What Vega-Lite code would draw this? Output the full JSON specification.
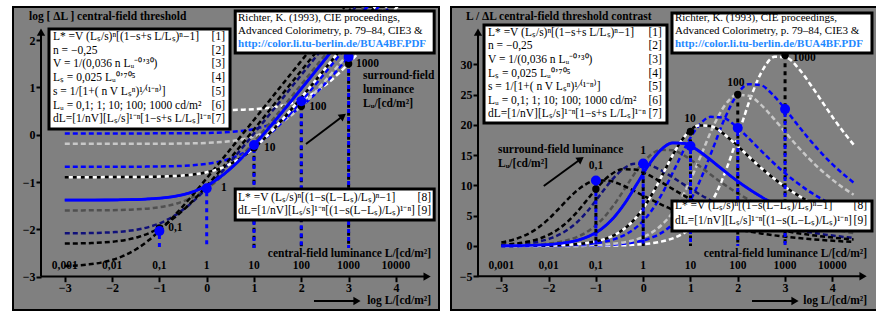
{
"$schema":"https://vega.github.io/schema/vega-lite/v6.json",
"padding":{"left":12,"top":6,"right":2,"bottom":4},
"background":"white",
"spacing":10,
"config":{"view":{"fill":"#808080","stroke":"#000","strokeWidth":2},"font":"Liberation Serif",
"axis":{"labelFont":"Liberation Serif","labelFontWeight":"bold","labelFontSize":12,"labelColor":"#000","tickColor":"#000","tickWidth":2,"tickSize":5,"domain":false,"grid":false,"labelPadding":1,"labelOverlap":false,"labelFlush":false}},
"datasets":{
"curves":[
{"s":"S10","x":-3,"l":0.513,"r":0.0003},{"s":"S10","x":-2.218,"l":0.513,"r":0.0019},{"s":"S10","x":-1.718,"l":0.513,"r":0.0059},{"s":"S10","x":-1.218,"l":0.513,"r":0.0186},{"s":"S10","x":-0.718,"l":0.514,"r":0.0587},{"s":"S10","x":-0.218,"l":0.515,"r":0.185},{"s":"S10","x":0.282,"l":0.518,"r":0.58},{"s":"S10","x":0.532,"l":0.523,"r":1.022},{"s":"S10","x":0.782,"l":0.53,"r":1.787},{"s":"S10","x":1.032,"l":0.543,"r":3.085},{"s":"S10","x":1.282,"l":0.565,"r":5.216},{"s":"S10","x":1.532,"l":0.602,"r":8.515},{"s":"S10","x":1.782,"l":0.662,"r":13.18},{"s":"S10","x":2.032,"l":0.755,"r":18.92},{"s":"S10","x":2.282,"l":0.889,"r":24.7},{"s":"S10","x":2.532,"l":1.068,"r":29.13},{"s":"S10","x":2.782,"l":1.287,"r":31.24},{"s":"S10","x":3.032,"l":1.539,"r":31.09},{"s":"S10","x":3.282,"l":1.815,"r":29.33},{"s":"S10","x":3.532,"l":2.105,"r":26.72},{"s":"S10","x":3.782,"l":2.405,"r":23.84},{"s":"S10","x":4.032,"l":2.71,"r":20.98},{"s":"S10","x":4.282,"l":3.018,"r":18.35},{"s":"S10","x":4.45,"l":3.227,"r":16.73},
{"s":"S9","x":-3,"l":0.027,"r":0.0009},{"s":"S9","x":-1.772,"l":0.027,"r":0.0159},{"s":"S9","x":-1.272,"l":0.028,"r":0.0502},{"s":"S9","x":-0.772,"l":0.029,"r":0.1583},{"s":"S9","x":-0.272,"l":0.032,"r":0.4962},{"s":"S9","x":-0.022,"l":0.037,"r":0.8737},{"s":"S9","x":0.228,"l":0.044,"r":1.528},{"s":"S9","x":0.478,"l":0.057,"r":2.638},{"s":"S9","x":0.728,"l":0.079,"r":4.46},{"s":"S9","x":0.978,"l":0.116,"r":7.281},{"s":"S9","x":1.228,"l":0.176,"r":11.27},{"s":"S9","x":1.478,"l":0.269,"r":16.18},{"s":"S9","x":1.728,"l":0.403,"r":21.12},{"s":"S9","x":1.978,"l":0.582,"r":24.91},{"s":"S9","x":2.228,"l":0.801,"r":26.72},{"s":"S9","x":2.478,"l":1.053,"r":26.58},{"s":"S9","x":2.728,"l":1.329,"r":25.08},{"s":"S9","x":2.978,"l":1.619,"r":22.85},{"s":"S9","x":3.228,"l":1.919,"r":20.37},{"s":"S9","x":3.478,"l":2.224,"r":17.94},{"s":"S9","x":3.728,"l":2.532,"r":15.69},{"s":"S9","x":3.978,"l":2.843,"r":13.66},{"s":"S9","x":4.45,"l":3.43,"r":10.47},
{"s":"S8","x":-3,"l":-0.192,"r":0.0016},{"s":"S8","x":-2.021,"l":-0.192,"r":0.0148},{"s":"S8","x":-1.521,"l":-0.192,"r":0.0468},{"s":"S8","x":-1.021,"l":-0.19,"r":0.1477},{"s":"S8","x":-0.521,"l":-0.187,"r":0.463},{"s":"S8","x":-0.271,"l":-0.182,"r":0.8154},{"s":"S8","x":-0.021,"l":-0.175,"r":1.426},{"s":"S8","x":0.229,"l":-0.162,"r":2.462},{"s":"S8","x":0.479,"l":-0.14,"r":4.162},{"s":"S8","x":0.729,"l":-0.103,"r":6.795},{"s":"S8","x":0.979,"l":-0.043,"r":10.51},{"s":"S8","x":1.229,"l":0.05,"r":15.1},{"s":"S8","x":1.479,"l":0.184,"r":19.71},{"s":"S8","x":1.729,"l":0.363,"r":23.24},{"s":"S8","x":1.979,"l":0.582,"r":24.93},{"s":"S8","x":2.229,"l":0.834,"r":24.8},{"s":"S8","x":2.479,"l":1.11,"r":23.4},{"s":"S8","x":2.729,"l":1.4,"r":21.32},{"s":"S8","x":2.979,"l":1.7,"r":19.01},{"s":"S8","x":3.229,"l":2.005,"r":16.75},{"s":"S8","x":3.479,"l":2.313,"r":14.64},{"s":"S8","x":3.979,"l":2.935,"r":11.08},{"s":"S8","x":4.45,"l":3.523,"r":8.45},
{"s":"S7","x":-3,"l":-0.678,"r":0.0048},{"s":"S7","x":-2.075,"l":-0.678,"r":0.04},{"s":"S7","x":-1.575,"l":-0.676,"r":0.1263},{"s":"S7","x":-1.075,"l":-0.673,"r":0.396},{"s":"S7","x":-0.825,"l":-0.668,"r":0.6973},{"s":"S7","x":-0.575,"l":-0.661,"r":1.219},{"s":"S7","x":-0.325,"l":-0.648,"r":2.105},{"s":"S7","x":-0.075,"l":-0.626,"r":3.558},{"s":"S7","x":0.175,"l":-0.589,"r":5.81},{"s":"S7","x":0.425,"l":-0.529,"r":8.991},{"s":"S7","x":0.675,"l":-0.436,"r":12.9},{"s":"S7","x":0.925,"l":-0.302,"r":16.86},{"s":"S7","x":1.175,"l":-0.123,"r":19.88},{"s":"S7","x":1.425,"l":0.096,"r":21.32},{"s":"S7","x":1.675,"l":0.348,"r":21.21},{"s":"S7","x":1.925,"l":0.624,"r":20.01},{"s":"S7","x":2.175,"l":0.914,"r":18.23},{"s":"S7","x":2.425,"l":1.214,"r":16.26},{"s":"S7","x":2.675,"l":1.519,"r":14.32},{"s":"S7","x":2.925,"l":1.827,"r":12.52},{"s":"S7","x":3.425,"l":2.449,"r":9.469},{"s":"S7","x":3.925,"l":3.072,"r":7.12},{"s":"S7","x":4.45,"l":3.728,"r":5.272},
{"s":"S6","x":-3,"l":-0.897,"r":0.0079},{"s":"S6","x":-2.324,"l":-0.897,"r":0.0374},{"s":"S6","x":-1.824,"l":-0.895,"r":0.1178},{"s":"S6","x":-1.324,"l":-0.892,"r":0.3694},{"s":"S6","x":-1.074,"l":-0.887,"r":0.6508},{"s":"S6","x":-0.824,"l":-0.88,"r":1.138},{"s":"S6","x":-0.574,"l":-0.867,"r":1.965},{"s":"S6","x":-0.324,"l":-0.845,"r":3.32},{"s":"S6","x":-0.074,"l":-0.808,"r":5.424},{"s":"S6","x":0.176,"l":-0.748,"r":8.391},{"s":"S6","x":0.426,"l":-0.655,"r":12.04},{"s":"S6","x":0.676,"l":-0.521,"r":15.73},{"s":"S6","x":0.926,"l":-0.342,"r":18.55},{"s":"S6","x":1.176,"l":-0.123,"r":19.9},{"s":"S6","x":1.426,"l":0.129,"r":19.8},{"s":"S6","x":1.676,"l":0.405,"r":18.67},{"s":"S6","x":1.926,"l":0.695,"r":17.02},{"s":"S6","x":2.176,"l":0.995,"r":15.18},{"s":"S6","x":2.426,"l":1.3,"r":13.36},{"s":"S6","x":2.676,"l":1.608,"r":11.69},{"s":"S6","x":3.176,"l":2.23,"r":8.837},{"s":"S6","x":3.676,"l":2.853,"r":6.644},{"s":"S6","x":4.176,"l":3.478,"r":4.987},{"s":"S6","x":4.45,"l":3.821,"r":4.262},
{"s":"S4","x":-3,"l":-1.601,"r":0.0399},{"s":"S4","x":-2.627,"l":-1.6,"r":0.094},{"s":"S4","x":-2.127,"l":-1.597,"r":0.2948},{"s":"S4","x":-1.877,"l":-1.592,"r":0.5193},{"s":"S4","x":-1.627,"l":-1.585,"r":0.9081},{"s":"S4","x":-1.377,"l":-1.572,"r":1.568},{"s":"S4","x":-1.127,"l":-1.55,"r":2.65},{"s":"S4","x":-0.877,"l":-1.513,"r":4.327},{"s":"S4","x":-0.627,"l":-1.453,"r":6.696},{"s":"S4","x":-0.377,"l":-1.36,"r":9.612},{"s":"S4","x":-0.127,"l":-1.226,"r":12.56},{"s":"S4","x":0.123,"l":-1.047,"r":14.8},{"s":"S4","x":0.373,"l":-0.828,"r":15.88},{"s":"S4","x":0.623,"l":-0.576,"r":15.8},{"s":"S4","x":0.873,"l":-0.3,"r":14.91},{"s":"S4","x":1.123,"l":-0.01,"r":13.58},{"s":"S4","x":1.373,"l":0.29,"r":12.11},{"s":"S4","x":1.623,"l":0.595,"r":10.66},{"s":"S4","x":1.873,"l":0.903,"r":9.324},{"s":"S4","x":2.373,"l":1.525,"r":7.052},{"s":"S4","x":2.873,"l":2.149,"r":5.303},{"s":"S4","x":3.373,"l":2.773,"r":3.98},{"s":"S4","x":3.873,"l":3.398,"r":2.986},{"s":"S4","x":4.373,"l":4.023,"r":2.239},{"s":"S4","x":4.45,"l":4.118,"r":2.142},
{"s":"S3","x":-3,"l":-2.085,"r":0.1217},{"s":"S3","x":-2.681,"l":-2.083,"r":0.2521},{"s":"S3","x":-2.431,"l":-2.078,"r":0.444},{"s":"S3","x":-2.181,"l":-2.071,"r":0.7764},{"s":"S3","x":-1.931,"l":-2.058,"r":1.341},{"s":"S3","x":-1.681,"l":-2.036,"r":2.266},{"s":"S3","x":-1.431,"l":-1.999,"r":3.7},{"s":"S3","x":-1.181,"l":-1.939,"r":5.726},{"s":"S3","x":-0.931,"l":-1.846,"r":8.219},{"s":"S3","x":-0.681,"l":-1.712,"r":10.73},{"s":"S3","x":-0.431,"l":-1.533,"r":12.66},{"s":"S3","x":-0.181,"l":-1.314,"r":13.58},{"s":"S3","x":0.069,"l":-1.062,"r":13.51},{"s":"S3","x":0.319,"l":-0.786,"r":12.74},{"s":"S3","x":0.569,"l":-0.496,"r":11.61},{"s":"S3","x":0.819,"l":-0.196,"r":10.35},{"s":"S3","x":1.069,"l":0.109,"r":9.12},{"s":"S3","x":1.319,"l":0.417,"r":7.973},{"s":"S3","x":1.819,"l":1.039,"r":6.03},{"s":"S3","x":2.319,"l":1.662,"r":4.535},{"s":"S3","x":2.819,"l":2.287,"r":3.403},{"s":"S3","x":3.319,"l":2.912,"r":2.553},{"s":"S3","x":3.819,"l":3.537,"r":1.914},{"s":"S3","x":4.319,"l":4.162,"r":1.435},{"s":"S3","x":4.45,"l":4.326,"r":1.331},
{"s":"S2","x":-3,"l":-2.302,"r":0.2005},{"s":"S2","x":-2.68,"l":-2.297,"r":0.414},{"s":"S2","x":-2.43,"l":-2.29,"r":0.7245},{"s":"S2","x":-2.18,"l":-2.277,"r":1.251},{"s":"S2","x":-1.93,"l":-2.255,"r":2.115},{"s":"S2","x":-1.68,"l":-2.218,"r":3.452},{"s":"S2","x":-1.43,"l":-2.158,"r":5.343},{"s":"S2","x":-1.18,"l":-2.065,"r":7.67},{"s":"S2","x":-0.93,"l":-1.931,"r":10.02},{"s":"S2","x":-0.68,"l":-1.752,"r":11.81},{"s":"S2","x":-0.43,"l":-1.533,"r":12.67},{"s":"S2","x":-0.18,"l":-1.281,"r":12.61},{"s":"S2","x":0.07,"l":-1.005,"r":11.89},{"s":"S2","x":0.32,"l":-0.715,"r":10.83},{"s":"S2","x":0.57,"l":-0.415,"r":9.663},{"s":"S2","x":0.82,"l":-0.11,"r":8.509},{"s":"S2","x":1.07,"l":0.198,"r":7.44},{"s":"S2","x":1.57,"l":0.82,"r":5.627},{"s":"S2","x":2.07,"l":1.443,"r":4.232},{"s":"S2","x":2.57,"l":2.068,"r":3.176},{"s":"S2","x":3.07,"l":2.693,"r":2.382},{"s":"S2","x":3.57,"l":3.318,"r":1.786},{"s":"S2","x":4.07,"l":3.943,"r":1.34},{"s":"S2","x":4.45,"l":4.418,"r":1.076},
{"s":"S1","x":-3,"l":-2.777,"r":0.598},{"s":"S1","x":-2.734,"l":-2.763,"r":1.07},{"s":"S1","x":-2.484,"l":-2.741,"r":1.808},{"s":"S1","x":-2.234,"l":-2.704,"r":2.953},{"s":"S1","x":-1.984,"l":-2.644,"r":4.568},{"s":"S1","x":-1.734,"l":-2.551,"r":6.558},{"s":"S1","x":-1.484,"l":-2.417,"r":8.564},{"s":"S1","x":-1.234,"l":-2.238,"r":10.1},{"s":"S1","x":-0.984,"l":-2.019,"r":10.83},{"s":"S1","x":-0.734,"l":-1.766,"r":10.78},{"s":"S1","x":-0.484,"l":-1.491,"r":10.17},{"s":"S1","x":-0.234,"l":-1.201,"r":9.265},{"s":"S1","x":0.016,"l":-0.901,"r":8.262},{"s":"S1","x":0.266,"l":-0.596,"r":7.278},{"s":"S1","x":0.516,"l":-0.288,"r":6.362},{"s":"S1","x":1.016,"l":0.334,"r":4.811},{"s":"S1","x":1.516,"l":0.958,"r":3.618},{"s":"S1","x":2.016,"l":1.582,"r":2.716},{"s":"S1","x":2.516,"l":2.207,"r":2.037},{"s":"S1","x":3.016,"l":2.832,"r":1.528},{"s":"S1","x":3.516,"l":3.457,"r":1.146},{"s":"S1","x":4.016,"l":4.082,"r":0.859},{"s":"S1","x":4.45,"l":4.625,"r":0.669},
{"s":"S5","x":-3,"l":-1.383,"r":0.0241},{"s":"S5","x":-2.378,"l":-1.381,"r":0.1008},{"s":"S5","x":-1.878,"l":-1.378,"r":0.3159},{"s":"S5","x":-1.628,"l":-1.373,"r":0.5565},{"s":"S5","x":-1.378,"l":-1.366,"r":0.973},{"s":"S5","x":-1.128,"l":-1.353,"r":1.68},{"s":"S5","x":-0.878,"l":-1.331,"r":2.84},{"s":"S5","x":-0.628,"l":-1.294,"r":4.637},{"s":"S5","x":-0.378,"l":-1.234,"r":7.175},{"s":"S5","x":-0.128,"l":-1.141,"r":10.3},{"s":"S5","x":0.122,"l":-1.007,"r":13.45},{"s":"S5","x":0.372,"l":-0.828,"r":15.86},{"s":"S5","x":0.622,"l":-0.609,"r":17.02},{"s":"S5","x":0.872,"l":-0.356,"r":16.93},{"s":"S5","x":1.122,"l":-0.081,"r":15.97},{"s":"S5","x":1.372,"l":0.209,"r":14.55},{"s":"S5","x":1.622,"l":0.509,"r":12.98},{"s":"S5","x":1.872,"l":0.814,"r":11.43},{"s":"S5","x":2.122,"l":1.122,"r":9.991},{"s":"S5","x":2.622,"l":1.744,"r":7.556},{"s":"S5","x":3.122,"l":2.368,"r":5.682},{"s":"S5","x":3.622,"l":2.992,"r":4.265},{"s":"S5","x":4.122,"l":3.617,"r":3.199},{"s":"S5","x":4.45,"l":4.027,"r":2.649}
],
"dotsL":[{"x":-1,"b":-2.034,"k":-1.973},{"x":0,"b":-1.134,"k":-1.137},{"x":1,"b":-0.218,"k":-0.277},{"x":2,"b":0.71,"k":0.602},{"x":3,"b":1.645,"k":1.502}],
"dotsR":[{"x":-1,"b":10.81,"k":9.4},{"x":0,"b":13.6,"k":13.7},{"x":1,"b":16.5,"k":18.9},{"x":2,"b":19.5,"k":25.0},{"x":3,"b":22.6,"k":31.5}],
"boxL":[{"x":-3.334,"x2":0.493,"y":2.235,"y2":0.121},{"x":0.603,"x2":4.809,"y":2.615,"y2":1.727},{"x":0.603,"x2":4.809,"y":-1.148,"y2":-1.803}],
"boxR":[{"x":-3.366,"x2":0.503,"y":36.49,"y2":20.31},{"x":0.609,"x2":4.838,"y":38.47,"y2":31.86},{"x":0.609,"x2":4.838,"y":7.43,"y2":2.48}],
"arrL":[{"x":-3.503,"y":-3,"x2":4.66,"y2":-3},{"x":-3.503,"y":-3,"x2":-3.503,"y2":2.171},{"x":2.268,"y":-3.516,"x2":3.177,"y2":-3.516},{"x":2.099,"y":-0.197,"x2":2.882,"y2":0.395}],
"arrR":[{"x":-3.493,"y":-5,"x2":4.649,"y2":-5},{"x":-3.493,"y":-5,"x2":-3.493,"y2":35.33},{"x":2.301,"y":-9.08,"x2":3.21,"y2":-9.08},{"x":-2.102,"y":9.906,"x2":-1.32,"y2":14.36}],
"headL":[{"x":4.66,"y":-3,"sh":"triangle-right","a":0},{"x":-3.503,"y":2.171,"sh":"triangle-up","a":0},{"x":3.177,"y":-3.516,"sh":"triangle-right","a":0},{"x":2.882,"y":0.395,"sh":"triangle-up","a":53}],
"headR":[{"x":4.649,"y":-5,"sh":"triangle-right","a":0},{"x":-3.493,"y":35.33,"sh":"triangle-up","a":0},{"x":3.21,"y":-9.08,"sh":"triangle-right","a":0},{"x":-1.32,"y":14.36,"sh":"triangle-up","a":54}],
"txtL":[
{"x":-3.757,"y":2.488,"t":"log [ ΔL ]  central-field threshold","st":"bold"},
{"x":3.304,"y":1.241,"t":"surround-field","st":"bold"},
{"x":3.304,"y":0.945,"t":"luminance","st":"bold"},
{"x":3.304,"y":0.649,"t":"Lᵤ/[cd/m²]","st":"bold"},
{"x":-0.814,"y":-1.973,"t":"0,1","st":"bold"},
{"x":0.302,"y":-1.12,"t":"1","st":"bold"},
{"x":1.211,"y":-0.283,"t":"10","st":"bold"},
{"x":2.168,"y":0.584,"t":"100","st":"bold"},
{"x":3.155,"y":1.495,"t":"1000","st":"bold"},
{"x":4.742,"y":-2.522,"t":"central-field luminance L/[cd/m²]","st":"boldR"},
{"x":4.742,"y":-3.516,"t":"log L/[cd/m²]","st":"boldR"},
{"x":-3,"y":-2.776,"t":"0,001","st":"boldC"},{"x":-2,"y":-2.776,"t":"0,01","st":"boldC"},{"x":-1,"y":-2.776,"t":"0,1","st":"boldC"},{"x":0,"y":-2.776,"t":"1","st":"boldC"},{"x":1,"y":-2.776,"t":"10","st":"boldC"},{"x":2,"y":-2.776,"t":"100","st":"boldC"},{"x":3,"y":-2.776,"t":"1000","st":"boldC"},{"x":4,"y":-2.776,"t":"10000","st":"boldC"},
{"x":-3.25,"y":2.066,"t":"L* =V (Lₛ/s)ⁿ[(1−s+s L/Lₛ)ⁿ−1]","st":"form"},
{"x":-3.25,"y":1.77,"t":"n = −0,25","st":"form"},
{"x":-3.25,"y":1.495,"t":"V = 1/(0,036 n Lᵤ⁻⁰ʼ³⁰)","st":"form"},
{"x":-3.25,"y":1.199,"t":"Lₛ = 0,025 Lᵤ⁰ʼ⁷⁰⁵","st":"form"},
{"x":-3.25,"y":0.903,"t":"s = 1/[1+( n V Lₛⁿ)¹⁄⁽¹⁻ⁿ⁾]","st":"form"},
{"x":-3.25,"y":0.607,"t":"Lᵤ = 0,1; 1; 10; 100; 1000 cd/m²","st":"form"},
{"x":-3.25,"y":0.332,"t":"dL=[1/nV][Lₛ/s]¹⁻ⁿ[1−s+s L/Lₛ]¹⁻ⁿ","st":"form"},
{"x":0.662,"y":-1.338,"t":"L* =V (Lₛ/s)ⁿ[(1−s(L−Lₛ)/Lₛ)ⁿ−1]","st":"form"},
{"x":0.662,"y":-1.613,"t":"dL=[1/nV][Lₛ/s]¹⁻ⁿ[(1−s(L−Lₛ)/Lₛ)¹⁻ⁿ]","st":"form"},
{"x":0.387,"y":2.066,"t":"[1]","st":"formR"},{"x":0.387,"y":1.77,"t":"[2]","st":"formR"},{"x":0.387,"y":1.495,"t":"[3]","st":"formR"},{"x":0.387,"y":1.199,"t":"[4]","st":"formR"},{"x":0.387,"y":0.903,"t":"[5]","st":"formR"},{"x":0.387,"y":0.607,"t":"[6]","st":"formR"},{"x":0.387,"y":0.332,"t":"[7]","st":"formR"},
{"x":4.742,"y":-1.338,"t":"[8]","st":"formR"},{"x":4.742,"y":-1.613,"t":"[9]","st":"formR"},
{"x":0.662,"y":2.467,"t":"Richter, K. (1993), CIE proceedings,","st":"ref"},
{"x":0.662,"y":2.192,"t":"Advanced Colorimetry, p. 79–84, CIE3 &","st":"ref"},
{"x":0.662,"y":1.918,"t":"http://color.li.tu-berlin.de/BUA4BF.PDF","st":"url"}
],
"txtR":[
{"x":-3.747,"y":37.81,"t":"L / ΔL  central-field threshold contrast","st":"bold"},
{"x":-3.071,"y":15.85,"t":"surround-field luminance","st":"bold"},
{"x":-3.071,"y":13.54,"t":"Lᵤ/[cd/m²]","st":"bold"},
{"x":-0.998,"y":13.21,"t":"0,1","st":"boldC"},
{"x":0,"y":15.68,"t":"1","st":"boldC"},
{"x":0.99,"y":20.97,"t":"10","st":"boldC"},
{"x":1.962,"y":26.91,"t":"100","st":"boldC"},
{"x":3.163,"y":31.04,"t":"1000","st":"bold"},
{"x":4.733,"y":-1.32,"t":"central-field luminance L/[cd/m²]","st":"boldR"},
{"x":4.733,"y":-9.08,"t":"log L/[cd/m²]","st":"boldR"},
{"x":-3,"y":-3.3,"t":"0,001","st":"boldC"},{"x":-2,"y":-3.3,"t":"0,01","st":"boldC"},{"x":-1,"y":-3.3,"t":"0,1","st":"boldC"},{"x":0,"y":-3.3,"t":"1","st":"boldC"},{"x":1,"y":-3.3,"t":"10","st":"boldC"},{"x":2,"y":-3.3,"t":"100","st":"boldC"},{"x":3,"y":-3.3,"t":"1000","st":"boldC"},{"x":4,"y":-3.3,"t":"10000","st":"boldC"},
{"x":-3.282,"y":35.17,"t":"L* =V (Lₛ/s)ⁿ[(1−s+s L/Lₛ)ⁿ−1]","st":"form"},
{"x":-3.282,"y":33.02,"t":"n = −0,25","st":"form"},
{"x":-3.282,"y":30.71,"t":"V = 1/(0,036 n Lᵤ⁻⁰ʼ³⁰)","st":"form"},
{"x":-3.282,"y":28.4,"t":"Lₛ = 0,025 Lᵤ⁰ʼ⁷⁰⁵","st":"form"},
{"x":-3.282,"y":26.25,"t":"s = 1/[1+( n V Lₛⁿ)¹⁄⁽¹⁻ⁿ⁾]","st":"form"},
{"x":-3.282,"y":23.94,"t":"Lᵤ = 0,1; 1; 10; 100; 1000 cd/m²","st":"form"},
{"x":-3.282,"y":21.79,"t":"dL=[1/nV][Lₛ/s]¹⁻ⁿ[1−s+s L/Lₛ]¹⁻ⁿ","st":"form"},
{"x":0.672,"y":6.6,"t":"L* =V (Lₛ/s)ⁿ[(1−s(L−Lₛ)/Lₛ)ⁿ−1]","st":"form"},
{"x":0.672,"y":4.13,"t":"dL=[1/nV][Lₛ/s]¹⁻ⁿ[(1−s(L−Lₛ)/Lₛ)¹⁻ⁿ]","st":"form"},
{"x":0.397,"y":35.17,"t":"[1]","st":"formR"},{"x":0.397,"y":33.02,"t":"[2]","st":"formR"},{"x":0.397,"y":30.71,"t":"[3]","st":"formR"},{"x":0.397,"y":28.4,"t":"[4]","st":"formR"},{"x":0.397,"y":26.25,"t":"[5]","st":"formR"},{"x":0.397,"y":23.94,"t":"[6]","st":"formR"},{"x":0.397,"y":21.79,"t":"[7]","st":"formR"},
{"x":4.733,"y":6.6,"t":"[8]","st":"formR"},{"x":4.733,"y":4.13,"t":"[9]","st":"formR"},
{"x":0.672,"y":37.64,"t":"Richter, K. (1993), CIE proceedings,","st":"ref"},
{"x":0.672,"y":35.5,"t":"Advanced Colorimetry, p. 79–84, CIE3 &","st":"ref"},
{"x":0.672,"y":33.35,"t":"http://color.li.tu-berlin.de/BUA4BF.PDF","st":"url"}
]
},
"hconcat":[
{"width":426,"height":303,"layer":[
{"data":{"name":"curves"},"mark":{"type":"line","clip":true,"strokeWidth":2.5,"interpolate":"monotone"},
"encoding":{"x":{"field":"x","type":"quantitative","scale":{"domain":[-4.095,4.911],"nice":false,"zero":false},"axis":{"values":[-3,-2,-1,0,1,2,3,4],"offset":-33.3,"title":null}},
"y":{"field":"l","type":"quantitative","scale":{"domain":[-3.706,2.7],"nice":false,"zero":false},"axis":{"values":[-3,-2,-1,0,1,2],"offset":-28,"title":null}},
"color":{"field":"s","type":"nominal","scale":{"domain":["S10","S9","S8","S7","S6","S4","S3","S2","S1","S5"],"range":["#ffffff","#0000ff","#c8c8c8","#0000ff","#000000","#505050","#10107a","#000000","#000000","#0000ff"]},"legend":null},
"strokeDash":{"field":"s","type":"nominal","scale":{"domain":["S10","S9","S8","S7","S6","S4","S3","S2","S1","S5"],"range":[[5,3],[5,3],[5,3],[5,3],[4,4],[5,3],[5,3],[5,3],[5,3],[1,0]]},"legend":null}}},
{"data":{"name":"curves"},"transform":[{"filter":"datum.s=='S6'"}],"mark":{"type":"line","clip":true,"strokeWidth":2.5,"interpolate":"monotone","color":"#ffffff","strokeDash":[4,4],"strokeDashOffset":4},
"encoding":{"x":{"field":"x","type":"quantitative","scale":{"domain":[-4.095,4.911],"nice":false,"zero":false},"axis":{"values":[-3,-2,-1,0,1,2,3,4],"offset":-33.3,"title":null}},
"y":{"field":"l","type":"quantitative","scale":{"domain":[-3.706,2.7],"nice":false,"zero":false},"axis":{"values":[-3,-2,-1,0,1,2],"offset":-28,"title":null}}}},
{"data":{"name":"curves"},"transform":[{"filter":"datum.s=='S5'"}],"mark":{"type":"line","clip":true,"strokeWidth":2.8,"interpolate":"monotone","color":"#0000ff"},
"encoding":{"x":{"field":"x","type":"quantitative","scale":{"domain":[-4.095,4.911],"nice":false,"zero":false},"axis":{"values":[-3,-2,-1,0,1,2,3,4],"offset":-33.3,"title":null}},
"y":{"field":"l","type":"quantitative","scale":{"domain":[-3.706,2.7],"nice":false,"zero":false},"axis":{"values":[-3,-2,-1,0,1,2],"offset":-28,"title":null}}}},
{"data":{"name":"dotsL"},"transform":[{"filter":"datum.x>=1"}],"mark":{"type":"rule","color":"#000","strokeWidth":3,"strokeDash":[4,4]},
"encoding":{"x":{"field":"x","type":"quantitative","scale":{"domain":[-4.095,4.911],"nice":false,"zero":false},"axis":{"values":[-3,-2,-1,0,1,2,3,4],"offset":-33.3,"title":null}},
"y":{"field":"k","type":"quantitative","scale":{"domain":[-3.706,2.7],"nice":false,"zero":false},"axis":{"values":[-3,-2,-1,0,1,2],"offset":-28,"title":null}},"y2":{"datum":-2.395}}},
{"data":{"name":"dotsL"},"mark":{"type":"rule","color":"#0000ff","strokeWidth":3,"strokeDash":[4,4],"strokeDashOffset":4},
"encoding":{"x":{"field":"x","type":"quantitative","scale":{"domain":[-4.095,4.911],"nice":false,"zero":false},"axis":{"values":[-3,-2,-1,0,1,2,3,4],"offset":-33.3,"title":null}},
"y":{"field":"b","type":"quantitative","scale":{"domain":[-3.706,2.7],"nice":false,"zero":false},"axis":{"values":[-3,-2,-1,0,1,2],"offset":-28,"title":null}},"y2":{"datum":-2.395}}},
{"data":{"name":"dotsL"},"mark":{"type":"point","filled":true,"color":"#000","size":55,"opacity":1},
"encoding":{"x":{"field":"x","type":"quantitative","scale":{"domain":[-4.095,4.911],"nice":false,"zero":false},"axis":{"values":[-3,-2,-1,0,1,2,3,4],"offset":-33.3,"title":null}},
"y":{"field":"k","type":"quantitative","scale":{"domain":[-3.706,2.7],"nice":false,"zero":false},"axis":{"values":[-3,-2,-1,0,1,2],"offset":-28,"title":null}}}},
{"data":{"name":"dotsL"},"mark":{"type":"point","filled":true,"color":"#0000ff","size":100,"opacity":1},
"encoding":{"x":{"field":"x","type":"quantitative","scale":{"domain":[-4.095,4.911],"nice":false,"zero":false},"axis":{"values":[-3,-2,-1,0,1,2,3,4],"offset":-33.3,"title":null}},
"y":{"field":"b","type":"quantitative","scale":{"domain":[-3.706,2.7],"nice":false,"zero":false},"axis":{"values":[-3,-2,-1,0,1,2],"offset":-28,"title":null}}}},
{"data":{"name":"boxL"},"mark":{"type":"rect","fill":"#fff","stroke":"#000","strokeWidth":3},
"encoding":{"x":{"field":"x","type":"quantitative","scale":{"domain":[-4.095,4.911],"nice":false,"zero":false},"axis":{"values":[-3,-2,-1,0,1,2,3,4],"offset":-33.3,"title":null}},"x2":{"field":"x2"},
"y":{"field":"y","type":"quantitative","scale":{"domain":[-3.706,2.7],"nice":false,"zero":false},"axis":{"values":[-3,-2,-1,0,1,2],"offset":-28,"title":null}},"y2":{"field":"y2"}}},
{"data":{"name":"arrL"},"mark":{"type":"rule","color":"#000","strokeWidth":2},
"encoding":{"x":{"field":"x","type":"quantitative","scale":{"domain":[-4.095,4.911],"nice":false,"zero":false},"axis":{"values":[-3,-2,-1,0,1,2,3,4],"offset":-33.3,"title":null}},"x2":{"field":"x2"},
"y":{"field":"y","type":"quantitative","scale":{"domain":[-3.706,2.7],"nice":false,"zero":false},"axis":{"values":[-3,-2,-1,0,1,2],"offset":-28,"title":null}},"y2":{"field":"y2"}}},
{"data":{"name":"headL"},"mark":{"type":"point","filled":true,"color":"#000","size":70,"opacity":1},
"encoding":{"x":{"field":"x","type":"quantitative","scale":{"domain":[-4.095,4.911],"nice":false,"zero":false},"axis":{"values":[-3,-2,-1,0,1,2,3,4],"offset":-33.3,"title":null}},
"y":{"field":"y","type":"quantitative","scale":{"domain":[-3.706,2.7],"nice":false,"zero":false},"axis":{"values":[-3,-2,-1,0,1,2],"offset":-28,"title":null}},
"shape":{"field":"sh","type":"nominal","scale":null,"legend":null},"angle":{"field":"a","type":"quantitative","scale":null,"legend":null}}},
{"data":{"name":"txtL"},"transform":[{"filter":"datum.st=='bold'"}],"mark":{"type":"text","align":"left","baseline":"middle","font":"Liberation Serif","fontWeight":"bold","fontSize":11.5,"color":"#000"},
"encoding":{"x":{"field":"x","type":"quantitative","scale":{"domain":[-4.095,4.911],"nice":false,"zero":false},"axis":{"values":[-3,-2,-1,0,1,2,3,4],"offset":-33.3,"title":null}},
"y":{"field":"y","type":"quantitative","scale":{"domain":[-3.706,2.7],"nice":false,"zero":false},"axis":{"values":[-3,-2,-1,0,1,2],"offset":-28,"title":null}},"text":{"field":"t"}}},
{"data":{"name":"txtL"},"transform":[{"filter":"datum.st=='boldR'"}],"mark":{"type":"text","align":"right","baseline":"middle","font":"Liberation Serif","fontWeight":"bold","fontSize":11.5,"color":"#000"},
"encoding":{"x":{"field":"x","type":"quantitative","scale":{"domain":[-4.095,4.911],"nice":false,"zero":false},"axis":{"values":[-3,-2,-1,0,1,2,3,4],"offset":-33.3,"title":null}},
"y":{"field":"y","type":"quantitative","scale":{"domain":[-3.706,2.7],"nice":false,"zero":false},"axis":{"values":[-3,-2,-1,0,1,2],"offset":-28,"title":null}},"text":{"field":"t"}}},
{"data":{"name":"txtL"},"transform":[{"filter":"datum.st=='boldC'"}],"mark":{"type":"text","align":"center","baseline":"middle","font":"Liberation Serif","fontWeight":"bold","fontSize":11.5,"color":"#000"},
"encoding":{"x":{"field":"x","type":"quantitative","scale":{"domain":[-4.095,4.911],"nice":false,"zero":false},"axis":{"values":[-3,-2,-1,0,1,2,3,4],"offset":-33.3,"title":null}},
"y":{"field":"y","type":"quantitative","scale":{"domain":[-3.706,2.7],"nice":false,"zero":false},"axis":{"values":[-3,-2,-1,0,1,2],"offset":-28,"title":null}},"text":{"field":"t"}}},
{"data":{"name":"txtL"},"transform":[{"filter":"datum.st=='form'"}],"mark":{"type":"text","align":"left","baseline":"middle","font":"Liberation Serif","fontSize":11.5,"color":"#000"},
"encoding":{"x":{"field":"x","type":"quantitative","scale":{"domain":[-4.095,4.911],"nice":false,"zero":false},"axis":{"values":[-3,-2,-1,0,1,2,3,4],"offset":-33.3,"title":null}},
"y":{"field":"y","type":"quantitative","scale":{"domain":[-3.706,2.7],"nice":false,"zero":false},"axis":{"values":[-3,-2,-1,0,1,2],"offset":-28,"title":null}},"text":{"field":"t"}}},
{"data":{"name":"txtL"},"transform":[{"filter":"datum.st=='formR'"}],"mark":{"type":"text","align":"right","baseline":"middle","font":"Liberation Serif","fontSize":11.5,"color":"#000"},
"encoding":{"x":{"field":"x","type":"quantitative","scale":{"domain":[-4.095,4.911],"nice":false,"zero":false},"axis":{"values":[-3,-2,-1,0,1,2,3,4],"offset":-33.3,"title":null}},
"y":{"field":"y","type":"quantitative","scale":{"domain":[-3.706,2.7],"nice":false,"zero":false},"axis":{"values":[-3,-2,-1,0,1,2],"offset":-28,"title":null}},"text":{"field":"t"}}},
{"data":{"name":"txtL"},"transform":[{"filter":"datum.st=='ref'"}],"mark":{"type":"text","align":"left","baseline":"middle","font":"Liberation Serif","fontSize":11,"color":"#000"},
"encoding":{"x":{"field":"x","type":"quantitative","scale":{"domain":[-4.095,4.911],"nice":false,"zero":false},"axis":{"values":[-3,-2,-1,0,1,2,3,4],"offset":-33.3,"title":null}},
"y":{"field":"y","type":"quantitative","scale":{"domain":[-3.706,2.7],"nice":false,"zero":false},"axis":{"values":[-3,-2,-1,0,1,2],"offset":-28,"title":null}},"text":{"field":"t"}}},
{"data":{"name":"txtL"},"transform":[{"filter":"datum.st=='url'"}],"mark":{"type":"text","align":"left","baseline":"middle","font":"Liberation Serif","fontWeight":"bold","fontSize":11,"color":"#1e88ff"},
"encoding":{"x":{"field":"x","type":"quantitative","scale":{"domain":[-4.095,4.911],"nice":false,"zero":false},"axis":{"values":[-3,-2,-1,0,1,2,3,4],"offset":-33.3,"title":null}},
"y":{"field":"y","type":"quantitative","scale":{"domain":[-3.706,2.7],"nice":false,"zero":false},"axis":{"values":[-3,-2,-1,0,1,2],"offset":-28,"title":null}},"text":{"field":"t"}}}
]},
{"width":426,"height":303,"layer":[
{"data":{"name":"curves"},"mark":{"type":"line","clip":true,"strokeWidth":2.5,"interpolate":"monotone"},
"encoding":{"x":{"field":"x","type":"quantitative","scale":{"domain":[-4.064,4.944],"nice":false,"zero":false},"axis":{"values":[-3,-2,-1,0,1,2,3,4],"offset":-33.7,"title":null}},
"y":{"field":"r","type":"quantitative","scale":{"domain":[-10.57,39.46],"nice":false,"zero":false},"axis":{"values":[-5,0,5,10,15,20,25,30],"offset":-27,"title":null}},
"color":{"field":"s","type":"nominal","scale":{"domain":["S10","S9","S8","S7","S6","S4","S3","S2","S1","S5"],"range":["#ffffff","#0000ff","#c8c8c8","#0000ff","#000000","#505050","#10107a","#000000","#000000","#0000ff"]},"legend":null},
"strokeDash":{"field":"s","type":"nominal","scale":{"domain":["S10","S9","S8","S7","S6","S4","S3","S2","S1","S5"],"range":[[5,3],[5,3],[5,3],[5,3],[4,4],[5,3],[5,3],[5,3],[5,3],[1,0]]},"legend":null}}},
{"data":{"name":"curves"},"transform":[{"filter":"datum.s=='S6'"}],"mark":{"type":"line","clip":true,"strokeWidth":2.5,"interpolate":"monotone","color":"#ffffff","strokeDash":[4,4],"strokeDashOffset":4},
"encoding":{"x":{"field":"x","type":"quantitative","scale":{"domain":[-4.064,4.944],"nice":false,"zero":false},"axis":{"values":[-3,-2,-1,0,1,2,3,4],"offset":-33.7,"title":null}},
"y":{"field":"r","type":"quantitative","scale":{"domain":[-10.57,39.46],"nice":false,"zero":false},"axis":{"values":[-5,0,5,10,15,20,25,30],"offset":-27,"title":null}}}},
{"data":{"name":"curves"},"transform":[{"filter":"datum.s=='S5'"}],"mark":{"type":"line","clip":true,"strokeWidth":2.8,"interpolate":"monotone","color":"#0000ff"},
"encoding":{"x":{"field":"x","type":"quantitative","scale":{"domain":[-4.064,4.944],"nice":false,"zero":false},"axis":{"values":[-3,-2,-1,0,1,2,3,4],"offset":-33.7,"title":null}},
"y":{"field":"r","type":"quantitative","scale":{"domain":[-10.57,39.46],"nice":false,"zero":false},"axis":{"values":[-5,0,5,10,15,20,25,30],"offset":-27,"title":null}}}},
{"data":{"name":"dotsR"},"mark":{"type":"rule","color":"#000","strokeWidth":3,"strokeDash":[4,4]},
"encoding":{"x":{"field":"x","type":"quantitative","scale":{"domain":[-4.064,4.944],"nice":false,"zero":false},"axis":{"values":[-3,-2,-1,0,1,2,3,4],"offset":-33.7,"title":null}},
"y":{"field":"k","type":"quantitative","scale":{"domain":[-10.57,39.46],"nice":false,"zero":false},"axis":{"values":[-5,0,5,10,15,20,25,30],"offset":-27,"title":null}},"y2":{"datum":0}}},
{"data":{"name":"dotsR"},"mark":{"type":"rule","color":"#0000ff","strokeWidth":3,"strokeDash":[4,4],"strokeDashOffset":4},
"encoding":{"x":{"field":"x","type":"quantitative","scale":{"domain":[-4.064,4.944],"nice":false,"zero":false},"axis":{"values":[-3,-2,-1,0,1,2,3,4],"offset":-33.7,"title":null}},
"y":{"field":"b","type":"quantitative","scale":{"domain":[-10.57,39.46],"nice":false,"zero":false},"axis":{"values":[-5,0,5,10,15,20,25,30],"offset":-27,"title":null}},"y2":{"datum":0}}},
{"data":{"name":"dotsR"},"mark":{"type":"point","filled":true,"color":"#000","size":55,"opacity":1},
"encoding":{"x":{"field":"x","type":"quantitative","scale":{"domain":[-4.064,4.944],"nice":false,"zero":false},"axis":{"values":[-3,-2,-1,0,1,2,3,4],"offset":-33.7,"title":null}},
"y":{"field":"k","type":"quantitative","scale":{"domain":[-10.57,39.46],"nice":false,"zero":false},"axis":{"values":[-5,0,5,10,15,20,25,30],"offset":-27,"title":null}}}},
{"data":{"name":"dotsR"},"mark":{"type":"point","filled":true,"color":"#0000ff","size":100,"opacity":1},
"encoding":{"x":{"field":"x","type":"quantitative","scale":{"domain":[-4.064,4.944],"nice":false,"zero":false},"axis":{"values":[-3,-2,-1,0,1,2,3,4],"offset":-33.7,"title":null}},
"y":{"field":"b","type":"quantitative","scale":{"domain":[-10.57,39.46],"nice":false,"zero":false},"axis":{"values":[-5,0,5,10,15,20,25,30],"offset":-27,"title":null}}}},
{"data":{"name":"boxR"},"mark":{"type":"rect","fill":"#fff","stroke":"#000","strokeWidth":3},
"encoding":{"x":{"field":"x","type":"quantitative","scale":{"domain":[-4.064,4.944],"nice":false,"zero":false},"axis":{"values":[-3,-2,-1,0,1,2,3,4],"offset":-33.7,"title":null}},"x2":{"field":"x2"},
"y":{"field":"y","type":"quantitative","scale":{"domain":[-10.57,39.46],"nice":false,"zero":false},"axis":{"values":[-5,0,5,10,15,20,25,30],"offset":-27,"title":null}},"y2":{"field":"y2"}}},
{"data":{"name":"arrR"},"mark":{"type":"rule","color":"#000","strokeWidth":2},
"encoding":{"x":{"field":"x","type":"quantitative","scale":{"domain":[-4.064,4.944],"nice":false,"zero":false},"axis":{"values":[-3,-2,-1,0,1,2,3,4],"offset":-33.7,"title":null}},"x2":{"field":"x2"},
"y":{"field":"y","type":"quantitative","scale":{"domain":[-10.57,39.46],"nice":false,"zero":false},"axis":{"values":[-5,0,5,10,15,20,25,30],"offset":-27,"title":null}},"y2":{"field":"y2"}}},
{"data":{"name":"headR"},"mark":{"type":"point","filled":true,"color":"#000","size":70,"opacity":1},
"encoding":{"x":{"field":"x","type":"quantitative","scale":{"domain":[-4.064,4.944],"nice":false,"zero":false},"axis":{"values":[-3,-2,-1,0,1,2,3,4],"offset":-33.7,"title":null}},
"y":{"field":"y","type":"quantitative","scale":{"domain":[-10.57,39.46],"nice":false,"zero":false},"axis":{"values":[-5,0,5,10,15,20,25,30],"offset":-27,"title":null}},
"shape":{"field":"sh","type":"nominal","scale":null,"legend":null},"angle":{"field":"a","type":"quantitative","scale":null,"legend":null}}},
{"data":{"name":"txtR"},"transform":[{"filter":"datum.st=='bold'"}],"mark":{"type":"text","align":"left","baseline":"middle","font":"Liberation Serif","fontWeight":"bold","fontSize":11.5,"color":"#000"},
"encoding":{"x":{"field":"x","type":"quantitative","scale":{"domain":[-4.064,4.944],"nice":false,"zero":false},"axis":{"values":[-3,-2,-1,0,1,2,3,4],"offset":-33.7,"title":null}},
"y":{"field":"y","type":"quantitative","scale":{"domain":[-10.57,39.46],"nice":false,"zero":false},"axis":{"values":[-5,0,5,10,15,20,25,30],"offset":-27,"title":null}},"text":{"field":"t"}}},
{"data":{"name":"txtR"},"transform":[{"filter":"datum.st=='boldR'"}],"mark":{"type":"text","align":"right","baseline":"middle","font":"Liberation Serif","fontWeight":"bold","fontSize":11.5,"color":"#000"},
"encoding":{"x":{"field":"x","type":"quantitative","scale":{"domain":[-4.064,4.944],"nice":false,"zero":false},"axis":{"values":[-3,-2,-1,0,1,2,3,4],"offset":-33.7,"title":null}},
"y":{"field":"y","type":"quantitative","scale":{"domain":[-10.57,39.46],"nice":false,"zero":false},"axis":{"values":[-5,0,5,10,15,20,25,30],"offset":-27,"title":null}},"text":{"field":"t"}}},
{"data":{"name":"txtR"},"transform":[{"filter":"datum.st=='boldC'"}],"mark":{"type":"text","align":"center","baseline":"middle","font":"Liberation Serif","fontWeight":"bold","fontSize":11.5,"color":"#000"},
"encoding":{"x":{"field":"x","type":"quantitative","scale":{"domain":[-4.064,4.944],"nice":false,"zero":false},"axis":{"values":[-3,-2,-1,0,1,2,3,4],"offset":-33.7,"title":null}},
"y":{"field":"y","type":"quantitative","scale":{"domain":[-10.57,39.46],"nice":false,"zero":false},"axis":{"values":[-5,0,5,10,15,20,25,30],"offset":-27,"title":null}},"text":{"field":"t"}}},
{"data":{"name":"txtR"},"transform":[{"filter":"datum.st=='form'"}],"mark":{"type":"text","align":"left","baseline":"middle","font":"Liberation Serif","fontSize":11.5,"color":"#000"},
"encoding":{"x":{"field":"x","type":"quantitative","scale":{"domain":[-4.064,4.944],"nice":false,"zero":false},"axis":{"values":[-3,-2,-1,0,1,2,3,4],"offset":-33.7,"title":null}},
"y":{"field":"y","type":"quantitative","scale":{"domain":[-10.57,39.46],"nice":false,"zero":false},"axis":{"values":[-5,0,5,10,15,20,25,30],"offset":-27,"title":null}},"text":{"field":"t"}}},
{"data":{"name":"txtR"},"transform":[{"filter":"datum.st=='formR'"}],"mark":{"type":"text","align":"right","baseline":"middle","font":"Liberation Serif","fontSize":11.5,"color":"#000"},
"encoding":{"x":{"field":"x","type":"quantitative","scale":{"domain":[-4.064,4.944],"nice":false,"zero":false},"axis":{"values":[-3,-2,-1,0,1,2,3,4],"offset":-33.7,"title":null}},
"y":{"field":"y","type":"quantitative","scale":{"domain":[-10.57,39.46],"nice":false,"zero":false},"axis":{"values":[-5,0,5,10,15,20,25,30],"offset":-27,"title":null}},"text":{"field":"t"}}},
{"data":{"name":"txtR"},"transform":[{"filter":"datum.st=='ref'"}],"mark":{"type":"text","align":"left","baseline":"middle","font":"Liberation Serif","fontSize":11,"color":"#000"},
"encoding":{"x":{"field":"x","type":"quantitative","scale":{"domain":[-4.064,4.944],"nice":false,"zero":false},"axis":{"values":[-3,-2,-1,0,1,2,3,4],"offset":-33.7,"title":null}},
"y":{"field":"y","type":"quantitative","scale":{"domain":[-10.57,39.46],"nice":false,"zero":false},"axis":{"values":[-5,0,5,10,15,20,25,30],"offset":-27,"title":null}},"text":{"field":"t"}}},
{"data":{"name":"txtR"},"transform":[{"filter":"datum.st=='url'"}],"mark":{"type":"text","align":"left","baseline":"middle","font":"Liberation Serif","fontWeight":"bold","fontSize":11,"color":"#1e88ff"},
"encoding":{"x":{"field":"x","type":"quantitative","scale":{"domain":[-4.064,4.944],"nice":false,"zero":false},"axis":{"values":[-3,-2,-1,0,1,2,3,4],"offset":-33.7,"title":null}},
"y":{"field":"y","type":"quantitative","scale":{"domain":[-10.57,39.46],"nice":false,"zero":false},"axis":{"values":[-5,0,5,10,15,20,25,30],"offset":-27,"title":null}},"text":{"field":"t"}}}
]}
]
}
